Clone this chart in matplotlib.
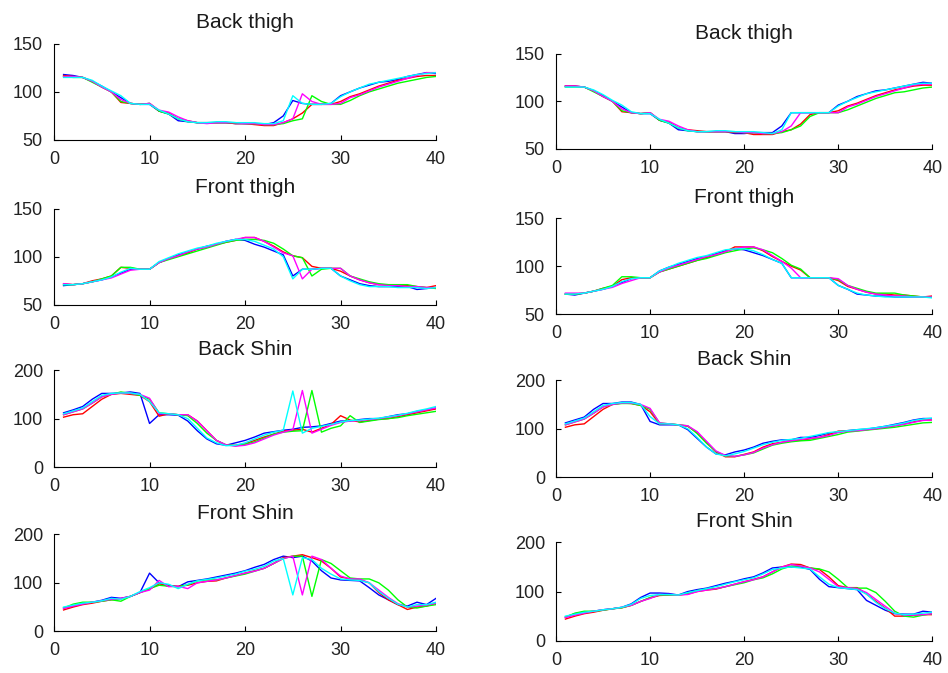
# Joint angle traces for the four sensor positions, raw (left) and filtered (right)

import numpy as np
import matplotlib.pyplot as plt

plt.rcParams['font.family'] = ['Liberation Sans', 'DejaVu Sans']

frame = np.arange(1, 41)

# ---- Back thigh, raw
blue_bt_raw    = [118,117,115,111,106,100,94,88,87,87,80,77,70,69,68,68,68,68,67,67,67,66,68,75,91,88,87,87,88,96,100,104,107,110,111,113,116,118,120,119]
red_bt_raw     = [117,116,115,111,105,100,89,88,87,88,80,78,72,70,68,68,68,68,67,67,66,65,65,68,72,78,87,87,87,90,95,98,102,106,109,112,114,116,117,117]
green_bt_raw   = [116,115,115,110,105,100,90,88,87,88,80,77,72,69,68,68,68,68,68,67,67,66,66,67,70,72,96,90,87,87,91,96,100,103,106,109,111,113,115,116]
magenta_bt_raw = [116,116,115,111,105,100,92,88,87,88,81,79,74,70,68,67,68,68,68,67,67,66,66,68,72,98,90,87,87,88,94,97,101,105,108,111,114,117,120,120]
cyan_bt_raw    = [115,115,115,112,106,101,96,88,87,87,81,77,72,69,68,68,69,69,68,68,68,67,67,70,96,88,87,87,88,95,100,104,108,110,112,114,116,118,119,120]

# ---- Back thigh, filtered
blue_bt_flt    = [116,116,115,111,106,100,94,88,87,87,80,77,70,69,68,68,68,68,66,66,67,67,67,74,88,88,88,88,88,96,100,105,108,111,112,114,116,118,120,119]
red_bt_flt     = [116,116,115,111,105,100,89,88,87,88,80,78,72,70,69,68,68,68,67,67,65,65,65,68,70,76,86,88,88,90,95,98,102,106,109,112,114,116,117,117]
green_bt_flt   = [115,115,115,110,105,100,90,88,87,88,80,77,72,69,68,68,68,68,68,67,67,66,66,67,70,74,84,88,88,88,91,95,99,103,106,109,110,112,114,115]
magenta_bt_flt = [116,116,115,111,105,100,92,88,87,88,81,79,74,70,68,68,68,68,68,67,67,66,66,68,74,88,88,88,88,88,94,97,101,105,108,111,114,117,118,118]
cyan_bt_flt    = [115,115,115,112,107,101,96,89,87,87,81,77,72,69,68,68,69,69,68,68,68,67,66,70,88,88,88,88,88,95,100,104,108,110,112,114,116,118,119,119]

# ---- Front thigh, raw
blue_ft_raw    = [70,71,72,74,76,79,83,87,87,87,94,98,102,105,108,111,113,116,118,117,113,110,106,102,80,87,87,88,88,80,76,72,70,69,69,69,69,66,67,68]
red_ft_raw     = [72,71,72,75,77,80,89,88,87,87,94,98,101,104,108,110,113,115,117,120,120,116,111,105,101,99,90,88,88,85,80,76,73,71,71,70,70,69,68,70]
green_ft_raw   = [71,71,72,74,77,80,89,89,87,87,94,97,100,103,106,109,112,115,117,118,118,117,114,108,101,99,80,87,88,88,80,77,74,72,71,71,71,69,68,67]
magenta_ft_raw = [72,71,72,74,76,78,82,86,87,87,94,98,101,105,108,110,113,116,118,120,120,116,110,104,101,77,87,88,88,88,80,76,73,71,70,70,69,69,68,68]
cyan_ft_raw    = [71,71,72,74,76,79,84,88,87,87,95,99,103,106,109,111,114,116,118,118,116,112,108,100,77,87,87,88,88,80,75,71,69,69,69,68,68,68,67,68]

# ---- Front thigh, filtered
blue_ft_flt    = [71,70,72,74,76,79,83,87,88,88,95,99,102,105,108,110,113,116,118,117,114,111,107,103,88,88,88,88,88,80,76,71,70,69,69,68,68,68,68,68]
red_ft_flt     = [71,71,72,74,77,79,86,88,88,88,94,97,100,103,106,109,112,115,120,120,120,116,110,105,100,96,88,88,88,85,79,76,73,71,71,70,70,69,68,69]
green_ft_flt   = [71,71,72,74,77,80,89,89,88,88,94,97,100,103,106,108,111,114,116,118,119,117,114,108,101,97,88,88,88,86,80,77,74,72,72,72,70,69,68,68]
magenta_ft_flt = [72,72,72,74,76,78,82,85,88,88,94,98,101,104,107,110,112,115,118,120,120,117,111,105,98,88,88,88,88,87,80,76,73,71,70,69,69,68,68,68]
cyan_ft_flt    = [71,71,72,74,76,79,84,87,88,88,95,99,103,106,109,111,114,117,118,118,116,112,107,103,88,88,88,88,88,80,76,72,70,69,68,68,68,68,68,67]

# ---- Back shin, raw
blue_bs_raw    = [112,118,125,140,152,152,153,155,152,90,108,108,107,95,75,58,48,45,50,55,62,70,73,76,78,82,83,85,90,95,95,98,100,100,104,108,110,115,118,122]
red_bs_raw     = [103,108,110,125,140,150,152,150,148,135,105,110,108,108,95,75,55,45,45,48,55,62,68,74,76,78,72,80,88,106,97,93,96,99,100,104,108,112,116,120]
green_bs_raw   = [108,114,120,132,145,150,155,152,148,140,112,110,108,106,90,70,55,46,44,47,52,60,68,72,74,75,158,72,80,85,106,92,95,98,100,102,106,109,112,115]
magenta_bs_raw = [108,114,120,132,145,150,153,152,150,142,110,110,108,108,95,75,55,46,43,45,50,58,66,72,77,158,70,78,86,92,95,96,98,100,103,106,110,114,118,122]
cyan_bs_raw    = [110,116,122,135,148,152,153,153,150,135,112,110,108,100,80,60,50,44,45,50,58,66,72,76,157,70,80,84,88,93,96,97,99,101,104,107,111,116,120,125]

# ---- Back shin, filtered
blue_bs_flt    = [112,118,124,140,152,152,155,155,150,115,108,108,108,98,80,62,48,46,52,56,62,70,74,77,77,82,82,86,91,93,96,98,99,102,105,109,113,118,121,121]
red_bs_flt     = [103,108,110,125,140,150,153,152,148,135,110,110,108,105,92,72,52,42,42,47,52,62,69,72,75,76,79,82,88,95,96,96,98,100,103,106,110,114,118,118]
green_bs_flt   = [108,114,120,132,145,150,152,152,148,140,112,110,108,106,90,70,53,44,43,46,50,58,66,70,73,75,76,80,84,88,93,95,97,99,101,103,106,109,112,113]
magenta_bs_flt = [108,114,120,132,145,150,153,153,150,142,112,110,108,106,94,74,54,45,43,46,51,60,67,72,75,78,80,82,86,92,95,96,98,100,103,106,109,113,117,118]
cyan_bs_flt    = [110,116,122,135,148,152,154,154,150,125,110,110,108,100,82,62,48,44,48,53,60,67,72,76,78,80,84,88,92,94,96,98,100,102,105,108,112,117,120,122]

# ---- Front shin, raw
blue_fs_raw    = [48,52,57,60,64,70,68,72,80,120,100,95,92,102,105,108,112,116,120,125,132,138,148,155,152,155,145,125,110,106,105,104,90,75,65,55,52,60,55,68]
red_fs_raw     = [44,50,55,58,62,65,67,72,80,87,98,93,93,95,100,103,104,110,115,120,125,130,140,152,155,158,152,145,130,112,108,106,100,80,65,55,45,50,52,58]
green_fs_raw   = [48,56,60,60,62,65,62,72,80,88,95,93,92,96,104,106,106,110,114,118,124,130,140,150,155,155,72,148,140,125,110,108,108,100,85,65,50,48,52,55]
magenta_fs_raw = [47,52,56,60,63,66,68,72,80,85,105,92,93,88,100,103,106,110,115,120,124,130,140,150,155,75,155,148,130,114,108,108,100,85,70,57,50,52,54,58]
cyan_fs_raw    = [50,54,58,60,63,68,66,72,82,90,100,97,88,97,104,107,110,114,118,124,128,134,145,150,75,152,148,130,118,108,106,105,100,82,68,56,50,55,55,60]

# ---- Front shin, filtered
blue_fs_flt    = [48,55,58,60,63,65,68,75,88,97,97,96,93,100,104,107,112,117,121,126,130,138,148,150,150,150,145,125,110,108,106,104,82,72,62,55,54,54,60,58]
red_fs_flt     = [44,50,55,58,62,65,67,72,80,87,92,93,93,95,100,103,105,110,115,120,125,130,140,150,156,155,148,145,130,112,108,108,95,80,66,50,50,52,53,53]
green_fs_flt   = [48,56,60,60,62,65,67,72,80,88,93,93,93,96,102,105,106,110,114,118,124,128,136,146,152,152,148,146,140,125,108,107,107,98,80,60,50,48,52,55]
magenta_fs_flt = [47,52,56,60,63,65,68,72,80,86,94,94,93,94,100,103,106,110,115,120,124,130,140,150,155,152,148,140,125,110,108,106,98,84,70,56,52,52,53,55]
cyan_fs_flt    = [50,54,58,60,63,65,68,74,86,92,94,94,93,98,102,106,110,115,120,124,128,136,145,148,150,148,146,130,115,108,106,104,95,78,65,56,53,54,56,58]

titles = ['Back thigh', 'Front thigh', 'Back Shin', 'Front Shin']
ylims = [(50, 150), (50, 150), (0, 200), (0, 200)]
yticks = [[50, 100, 150], [50, 100, 150], [0, 100, 200], [0, 100, 200]]
xticks = [0, 10, 20, 30, 40]

raw = [
    [blue_bt_raw, red_bt_raw, green_bt_raw, magenta_bt_raw, cyan_bt_raw],
    [blue_ft_raw, red_ft_raw, green_ft_raw, magenta_ft_raw, cyan_ft_raw],
    [blue_bs_raw, red_bs_raw, green_bs_raw, magenta_bs_raw, cyan_bs_raw],
    [blue_fs_raw, red_fs_raw, green_fs_raw, magenta_fs_raw, cyan_fs_raw],
]
flt = [
    [blue_bt_flt, red_bt_flt, green_bt_flt, magenta_bt_flt, cyan_bt_flt],
    [blue_ft_flt, red_ft_flt, green_ft_flt, magenta_ft_flt, cyan_ft_flt],
    [blue_bs_flt, red_bs_flt, green_bs_flt, magenta_bs_flt, cyan_bs_flt],
    [blue_fs_flt, red_fs_flt, green_fs_flt, magenta_fs_flt, cyan_fs_flt],
]
colours = ['#0000ff', '#ff0000', '#00ff00', '#ff00ff', '#00ffff']

# axes rectangles [left, bottom, width, height]
rects_left = [[0.057, 0.792, 0.403, 0.143],
              [0.057, 0.547, 0.403, 0.143],
              [0.057, 0.306, 0.403, 0.144],
              [0.057, 0.062, 0.403, 0.144]]
rects_right = [[0.5865, 0.779, 0.397, 0.141],
               [0.5865, 0.533, 0.397, 0.143],
               [0.5865, 0.291, 0.397, 0.144],
               [0.5865, 0.048, 0.397, 0.146]]

Tickfont = 13
Titlefont = 15
LineWd = 1.0

fig = plt.figure(figsize=(9.48, 6.73), dpi=100)

for rects, data in [(rects_left, raw), (rects_right, flt)]:
    for k in range(4):
        ax = fig.add_axes(rects[k])
        for series, col in zip(data[k], colours):
            ax.plot(frame, series, color=col, lw=LineWd)
        ax.set_xlim(0, 40)
        ax.set_ylim(*ylims[k])
        ax.set_xticks(xticks)
        ax.set_yticks(yticks[k])
        ax.set_title(titles[k], fontsize=Titlefont, pad=11, color='#1a1a1a')
        ax.spines['top'].set_visible(False)
        ax.spines['right'].set_visible(False)
        for s in ['left', 'bottom']:
            ax.spines[s].set_linewidth(0.8)
        ax.tick_params(direction='in', length=3.5, width=0.8,
                       labelsize=Tickfont, labelcolor='#222222')
        ax.tick_params(axis='x', pad=8)
        ax.tick_params(axis='y', pad=8)

plt.savefig('out.png', dpi=100)
